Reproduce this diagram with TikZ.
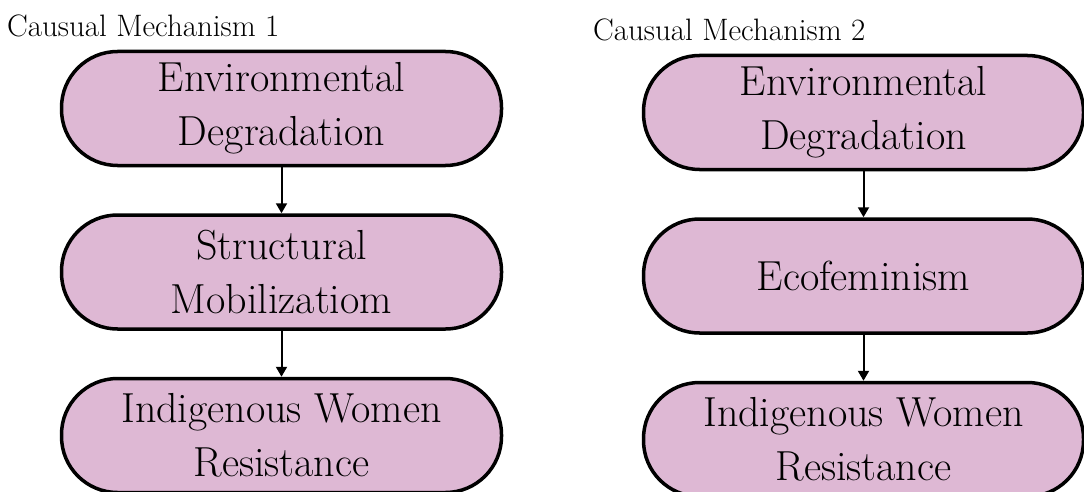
\documentclass[tikz,border=0pt]{standalone}
\usepackage{fontspec}
\usepackage{tikz}
\usetikzlibrary{arrows.meta, positioning}
\definecolor{mechPink}{RGB}{222,184,212}

\begin{document}
\begin{tikzpicture}[
    stage/.style={rectangle, rounded corners=56pt, draw=black, line width=3.5pt, fill=mechPink,
      minimum width=440pt, minimum height=114pt, inner sep=0pt, align=center,
      font=\fontsize{42}{54}\selectfont},
    heading/.style={anchor=base west, inner sep=0pt, font=\fontsize{31}{36}\selectfont},
    arrow/.style={-{Triangle[width=11pt,length=10pt]}, line width=2pt, draw=black}
  ]
  \useasboundingbox (0pt,0pt) rectangle (1084pt,-492pt);

  % mechanism 1
  \node[heading] (title1) at (7pt,-37pt) {Causual Mechanism 1};
  \node[stage] (env1) at (281.5pt,-108.5pt) {Environmental\\Degradation};
  \node[stage, below=46pt of env1] (struct1) {Structural\\Mobilizatiom};
  \node[stage, below=46pt of struct1] (resist1) {Indigenous Women\\Resistance};

  % mechanism 2
  \node[heading] (title2) at (593pt,-41pt) {Causual Mechanism 2};
  \node[stage] (env2) at (863.5pt,-112.5pt) {Environmental\\Degradation};
  \node[stage, below=46pt of env2] (eco2) {Ecofeminism};
  \node[stage, below=46pt of eco2] (resist2) {Indigenous Women\\Resistance};

  \draw[arrow] (env1) -- (struct1);
  \draw[arrow] (struct1) -- (resist1);
  \draw[arrow] (env2) -- (eco2);
  \draw[arrow] (eco2) -- (resist2);
\end{tikzpicture}
\end{document}
